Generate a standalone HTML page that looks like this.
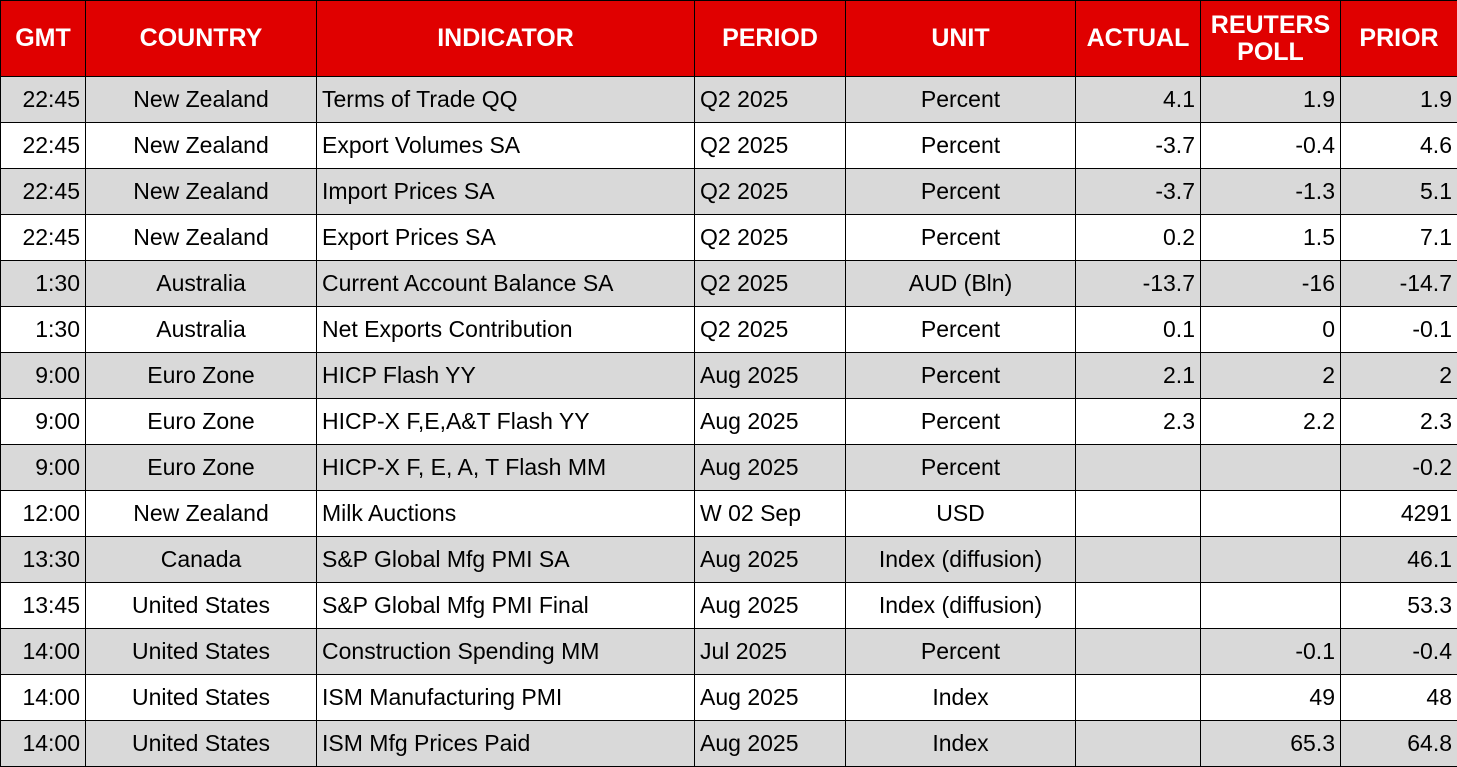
<!DOCTYPE html>
<html><head><meta charset="utf-8"><style>
html,body{margin:0;padding:0;width:1457px;height:767px;overflow:hidden;background:#fff}
table{position:absolute;left:0;top:0;border-collapse:collapse;table-layout:fixed;width:1457px;font-family:"Liberation Sans",sans-serif}
td,th{border:1px solid #000;padding:0 5px;white-space:nowrap;overflow:hidden;font-size:23px;color:#000;height:45px}
th{background:#e00000;color:#fff;font-weight:bold;font-size:25px;height:75px;line-height:27px;text-align:center}
tr.g td{background:#d9d9d9}
.c{text-align:center}.l{text-align:left}.r{text-align:right}
</style></head><body>
<table>
<colgroup><col style="width:85px"><col style="width:231px"><col style="width:378px"><col style="width:151px"><col style="width:230px"><col style="width:125px"><col style="width:140px"><col style="width:117px"></colgroup>
<thead><tr>
<th>GMT</th>
<th>COUNTRY</th>
<th>INDICATOR</th>
<th>PERIOD</th>
<th>UNIT</th>
<th>ACTUAL</th>
<th>REUTERS<br>POLL</th>
<th>PRIOR</th>
</tr></thead>
<tbody id="tb"></tbody>
</table>
<script>
const rows=[
["22:45","New Zealand","Terms of Trade QQ","Q2 2025","Percent","4.1","1.9","1.9"],
["22:45","New Zealand","Export Volumes SA","Q2 2025","Percent","-3.7","-0.4","4.6"],
["22:45","New Zealand","Import Prices SA","Q2 2025","Percent","-3.7","-1.3","5.1"],
["22:45","New Zealand","Export Prices SA","Q2 2025","Percent","0.2","1.5","7.1"],
["1:30","Australia","Current Account Balance SA","Q2 2025","AUD (Bln)","-13.7","-16","-14.7"],
["1:30","Australia","Net Exports Contribution","Q2 2025","Percent","0.1","0","-0.1"],
["9:00","Euro Zone","HICP Flash YY","Aug 2025","Percent","2.1","2","2"],
["9:00","Euro Zone","HICP-X F,E,A&T Flash YY","Aug 2025","Percent","2.3","2.2","2.3"],
["9:00","Euro Zone","HICP-X F, E, A, T Flash MM","Aug 2025","Percent","","","-0.2"],
["12:00","New Zealand","Milk Auctions","W 02 Sep","USD","","","4291"],
["13:30","Canada","S&P Global Mfg PMI SA","Aug 2025","Index (diffusion)","","","46.1"],
["13:45","United States","S&P Global Mfg PMI Final","Aug 2025","Index (diffusion)","","","53.3"],
["14:00","United States","Construction Spending MM","Jul 2025","Percent","","-0.1","-0.4"],
["14:00","United States","ISM Manufacturing PMI","Aug 2025","Index","","49","48"],
["14:00","United States","ISM Mfg Prices Paid","Aug 2025","Index","","65.3","64.8"]];
const al=["r","c","l","l","c","r","r","r"];
const nm=["gmt","country","indicator","period","unit","actual","reuters-poll","prior"];
const tb=document.getElementById('tb');
rows.forEach((r,i)=>{const tr=document.createElement('tr');


if(i%2==0)tr.className='g';
r.forEach((v,j)=>{const td=document.createElement('td');td.className=al[j];td.textContent=v;


tr.appendChild(td);});tb.appendChild(tr);});
</script>
</body></html>
